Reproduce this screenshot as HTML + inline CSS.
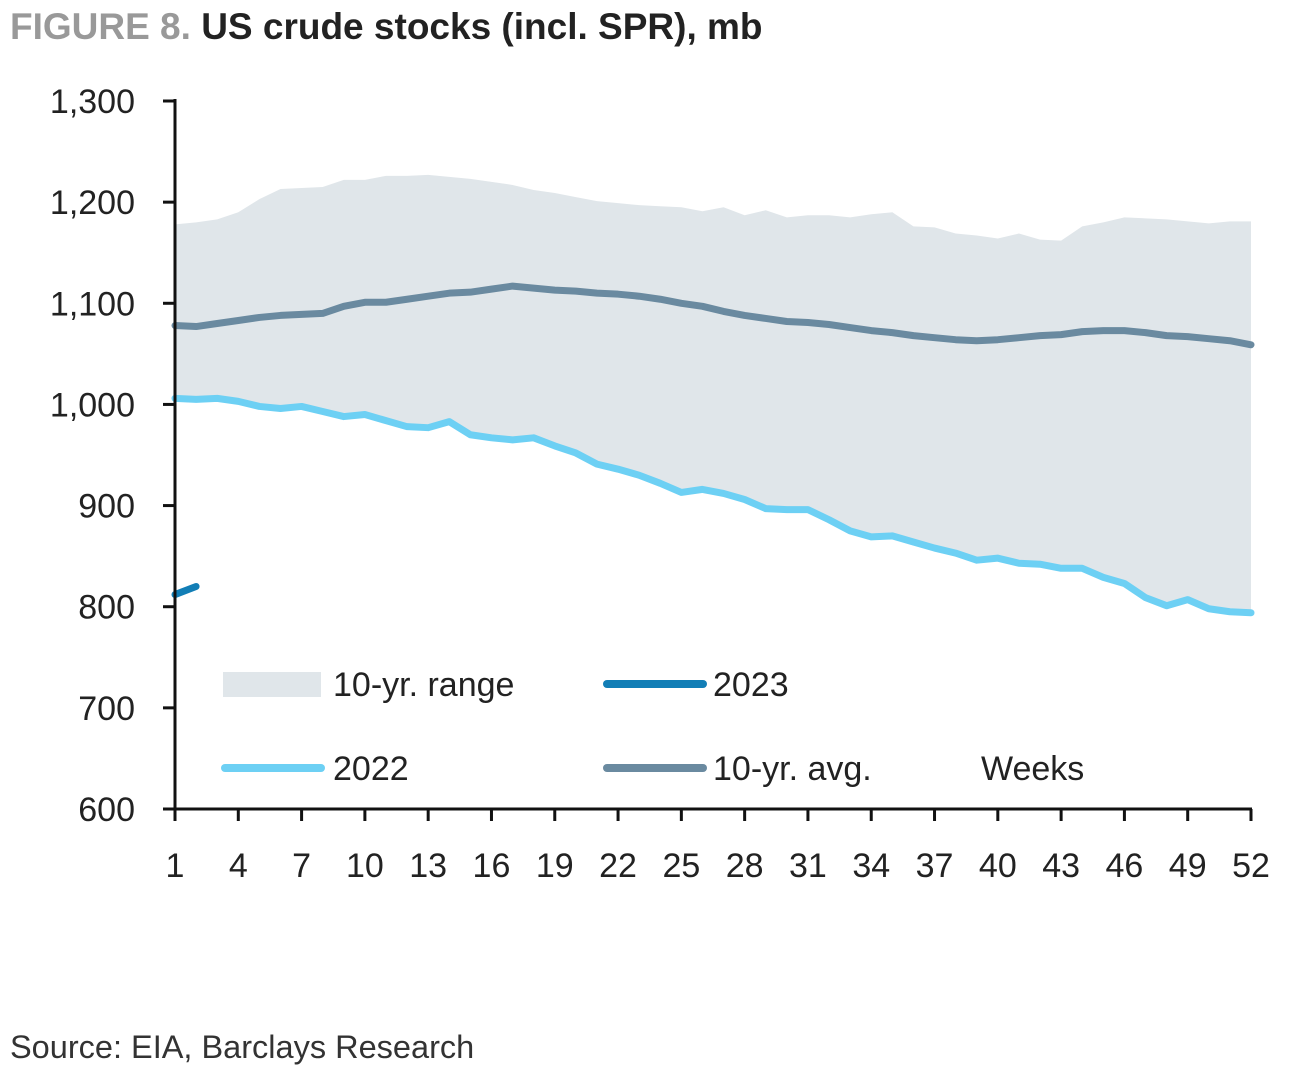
<!DOCTYPE html>
<html><head><meta charset="utf-8"><style>
body{margin:0;background:#fff;width:1292px;height:1073px;overflow:hidden;font-family:"Liberation Sans",sans-serif}
svg{position:absolute;left:0;top:0}
</style></head><body>
<svg id="chart" width="1292" height="1073" font-family="Liberation Sans, sans-serif">
<text x="10" y="39" font-size="37" font-weight="bold"><tspan fill="#999">FIGURE 8.</tspan><tspan fill="#222"> US crude stocks (incl. SPR), mb</tspan></text>
<g id="plot"></g>
<g>
<rect x="223" y="672" width="98" height="25" fill="#e0e6ea"/>
<text x="333" y="696" font-size="34" fill="#222">10-yr. range</text>
<line x1="607" y1="684" x2="703" y2="684" stroke="#127eb6" stroke-width="8" stroke-linecap="round"/>
<text x="713" y="696" font-size="34" fill="#222">2023</text>
<line x1="225" y1="768" x2="321" y2="768" stroke="#6dd0f4" stroke-width="8" stroke-linecap="round"/>
<text x="333" y="780" font-size="34" fill="#222">2022</text>
<line x1="607" y1="768" x2="703" y2="768" stroke="#6a8aa0" stroke-width="8" stroke-linecap="round"/>
<text x="713" y="780" font-size="34" fill="#222">10-yr. avg.</text>
</g>
<text x="981" y="780" font-size="34" fill="#222">Weeks</text>
<text x="10" y="1058" font-size="32.5" fill="#333">Source: EIA, Barclays Research</text>
</svg>
<script>
const rangeMax=[1178,1180,1183,1190,1203,1213,1214,1215,1222,1222,1226,1226,1227,1225,1223,1220,1217,1212,1209,1205,1201,1199,1197,1196,1195,1191,1195,1187,1192,1185,1187,1187,1185,1188,1190,1176,1175,1169,1167,1164,1169,1163,1162,1176,1180,1185,1184,1183,1181,1179,1181,1181];
const s2022=[1006,1005,1006,1003,998,996,998,993,988,990,984,978,977,983,970,967,965,967,959,952,941,936,930,922,913,916,912,906,897,896,896,886,875,869,870,864,858,853,846,848,843,842,838,838,829,823,809,801,807,798,795,794];
const rangeMin=s2022.slice();
const avg=[1078,1077,1080,1083,1086,1088,1089,1090,1097,1101,1101,1104,1107,1110,1111,1114,1117,1115,1113,1112,1110,1109,1107,1104,1100,1097,1092,1088,1085,1082,1081,1079,1076,1073,1071,1068,1066,1064,1063,1064,1066,1068,1069,1072,1073,1073,1071,1068,1067,1065,1063,1059];
const s2023=[812,820];
const yTicks=[600,700,800,900,1000,1100,1200,1300];
const xTicks=[1,4,7,10,13,16,19,22,25,28,31,34,37,40,43,46,49,52];
const NS='http://www.w3.org/2000/svg';
const X=w=>175+(w-1)*(1251-175)/51;
const Y=v=>809-(v-600)*(809-101)/700;
const g=document.getElementById('plot');
function mk(t,a){const e=document.createElementNS(NS,t);for(const k in a)e.setAttribute(k,a[k]);g.appendChild(e);return e;}
let d='';rangeMax.forEach((v,i)=>d+=(i?'L':'M')+X(i+1)+' '+Y(v));
for(let i=rangeMin.length-1;i>=0;i--)d+='L'+X(i+1)+' '+Y(rangeMin[i]);
let e=mk('path',{d:d+'Z',fill:'#e0e6ea'});


function line(arr,col,name){const p=arr.map((v,i)=>(i?'L':'M')+X(i+1)+' '+Y(v)).join('');const l=mk('path',{d:p,fill:'none',stroke:col,'stroke-width':7,'stroke-linejoin':'round','stroke-linecap':'round'});

}
line(avg,'#6a8aa0','avg-line');
line(s2022,'#6dd0f4','line-2022');
line(s2023,'#127eb6','line-2023');
e=mk('line',{x1:175,y1:99,x2:175,y2:811,stroke:'#111','stroke-width':3});


e=mk('line',{x1:174,y1:809,x2:1252,y2:809,stroke:'#111','stroke-width':3});


yTicks.forEach(v=>{mk('line',{x1:163,y1:Y(v),x2:175,y2:Y(v),stroke:'#111','stroke-width':3});
const t=mk('text',{x:135,y:Y(v)+12,'text-anchor':'end','font-size':34,fill:'#222'});t.textContent=v.toLocaleString('en-US');

});
xTicks.forEach(w=>{mk('line',{x1:X(w),y1:809,x2:X(w),y2:821,stroke:'#111','stroke-width':3});
const t=mk('text',{x:X(w),y:877,'text-anchor':'middle','font-size':34,fill:'#222'});t.textContent=w;

});
</script>
</body></html>
